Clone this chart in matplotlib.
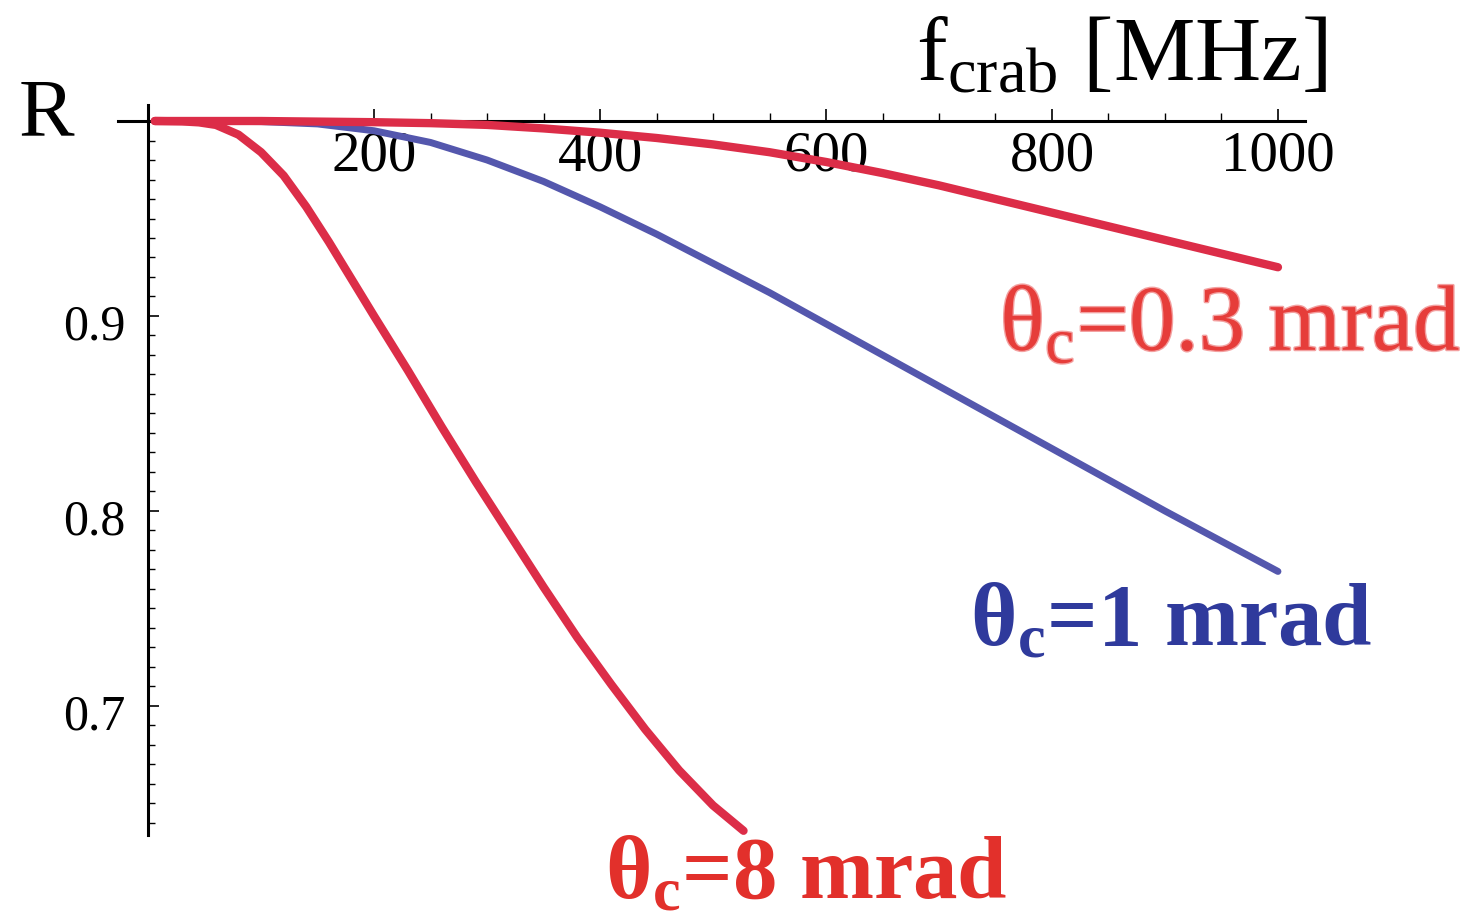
import numpy as np
import matplotlib
matplotlib.use("Agg")
import matplotlib.pyplot as plt
import matplotlib.patheffects as pe
from matplotlib.transforms import ScaledTranslation

plt.rcParams['font.family'] = ['Liberation Serif', 'DejaVu Serif']
plt.rcParams['mathtext.fontset'] = 'custom'
plt.rcParams['mathtext.rm'] = 'Liberation Serif'
plt.rcParams['mathtext.it'] = 'Liberation Serif:italic'
plt.rcParams['mathtext.bf'] = 'Liberation Serif:bold'

# curves: f_crab [MHz] vs R
f_03 = [6, 100, 200, 250, 300, 350, 400, 450, 500, 550, 600, 650, 700, 750, 800, 900, 1000]
r_03 = [1.0, 1.0, 0.9994, 0.9989, 0.998, 0.9962, 0.994, 0.9913, 0.988, 0.984, 0.979,
        0.9733, 0.967, 0.960, 0.953, 0.939, 0.925]

f_1 = [6, 100, 150, 200, 250, 300, 350, 400, 450, 500, 550, 600, 650, 700, 800, 900, 1000]
r_1 = [1.0, 0.9997, 0.9985, 0.995, 0.989, 0.980, 0.969, 0.956, 0.942, 0.927, 0.912,
       0.896, 0.880, 0.864, 0.832, 0.800, 0.769]

f_8 = [6, 30, 45, 60, 80, 100, 120, 140, 160, 180, 200, 230, 260, 290, 320, 350,
       380, 410, 440, 470, 500, 527]
r_8 = [1.0, 0.9998, 0.9993, 0.998, 0.993, 0.984, 0.972, 0.956, 0.938, 0.919, 0.900,
       0.872, 0.843, 0.815, 0.788, 0.761, 0.735, 0.711, 0.688, 0.667, 0.649, 0.636]

x_major = [200, 400, 600, 800, 1000]
x_minor = [250, 300, 350, 450, 500, 550, 650, 700, 750, 850, 900, 950]
y_major = [0.7, 0.8, 0.9]
y_labels = ["0.7", "0.8", "0.9"]
y_minor = [round(v, 2) for v in np.arange(0.64, 1.0, 0.01) if round(v, 2) not in (0.7, 0.8, 0.9)]

RED = '#dc2d48'
BLUE = '#5457ad'

fig = plt.figure(figsize=(14.77, 9.15), dpi=100)
ax = fig.add_axes([0.0796, 0.0878, 0.804, 0.797])

ax.plot(f_1, r_1, color=BLUE, lw=5.0, solid_capstyle='round', zorder=3)
ax.plot(f_03, r_03, color=RED, lw=6.0, solid_capstyle='round', zorder=4)
ax.plot(f_8, r_8, color=RED, lw=6.0, solid_capstyle='round', zorder=4)

ax.set_xlim(-27, 1024)
ax.set_ylim(0.634, 1.008)

# Mathematica-style crossing axes
for s in ['top', 'right']:
    ax.spines[s].set_visible(False)
ax.spines['left'].set_position(('data', 0))
ax.spines['bottom'].set_position(('data', 1.0))
ax.spines['left'].set_linewidth(2.2)
ax.spines['bottom'].set_linewidth(2.2)
ax.patch.set_visible(False)

ax.set_xticks(x_major)
ax.set_xticklabels([str(v) for v in x_major])
ax.set_xticks(x_minor, minor=True)
ax.set_yticks(y_major)
ax.set_yticklabels(y_labels)
ax.set_yticks(y_minor, minor=True)

ax.tick_params(axis='x', which='major', direction='in', length=9, width=1.2,
               labelsize=41, pad=7)
ax.tick_params(axis='x', which='minor', direction='in', length=6, width=1.0)
ax.tick_params(axis='y', which='major', direction='in', length=8, width=1.2,
               labelsize=36, pad=16)
ax.tick_params(axis='y', which='minor', direction='in', length=5, width=1.0)

shift = ScaledTranslation(0, -0.06, fig.dpi_scale_trans)
for lab in ax.get_yticklabels():
    lab.set_transform(lab.get_transform() + shift)

ax.text(-115, 0.9928, "R", fontsize=60, ha='left', va='baseline')
ax.text(1044, 1.021, r'$\mathregular{f_{crab}}$ [MHz]', fontsize=66,
        ha='right', va='baseline', clip_on=False)

ax.text(754, 0.8826, r'$\mathregular{θ_c}$=0.3 mrad', fontsize=67, color='#e63d3a',
        ha='left', va='baseline',
        path_effects=[pe.withStroke(linewidth=2, foreground='#f3a0a0')])
ax.text(727, 0.731, r'$\mathregular{θ_c}$=1 mrad', fontsize=64, color='#2f3a9c',
        fontweight='bold', ha='left', va='baseline')
ax.text(404, 0.6015, r'$\mathregular{θ_c}$=8 mrad', fontsize=64, color='#e2302b',
        fontweight='bold', ha='left', va='baseline', clip_on=False)

fig.savefig("out.png", dpi=100)
